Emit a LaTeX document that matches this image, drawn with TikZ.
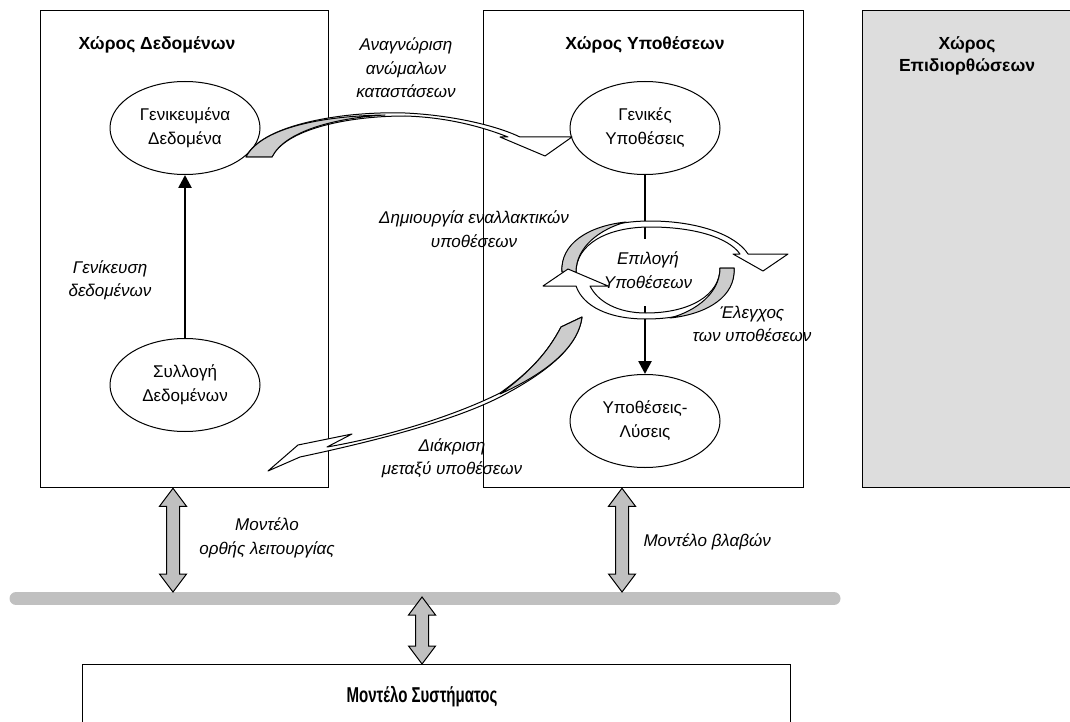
\documentclass[tikz,border=0pt]{standalone}
\usepackage{fontspec}
\setmainfont{Liberation Sans}
\usetikzlibrary{calc, arrows.meta, shapes.geometric}

\definecolor{panelgray}{RGB}{221,221,221}
\definecolor{bargray}{RGB}{192,192,192}
\definecolor{backgray}{RGB}{204,204,204}

\tikzstyle{zone} = [rectangle, draw=black, line width=1.3pt, anchor=north west, inner sep=0pt]
\tikzstyle{zonetitle} = [font=\fontsize{17.5}{22}\selectfont\bfseries, align=center]
\tikzstyle{oval} = [ellipse, draw=black, line width=1pt, minimum width=150pt, minimum height=93pt, inner sep=0pt, align=center, font=\fontsize{17}{24}\selectfont]
\tikzstyle{note} = [align=center, font=\fontsize{17}{23.5}\selectfont\itshape]
\tikzstyle{arrow} = [line width=2.6pt, -{Triangle[width=13pt,length=13pt]}]
\tikzstyle{ribbon} = [draw=black, line width=1pt, fill=white, line join=round]
\tikzstyle{ribbonback} = [ribbon, fill=backgray]
\tikzstyle{dblarrow} = [draw=black, line width=1pt, fill=bargray,
  to path={let \p1=(\tikztostart), \p2=(\tikztotarget) in
    (\x1,\y1) -- (\x1+13.5pt,\y1-18pt) -- (\x1+6.5pt,\y1-18pt) -- (\x1+6.5pt,\y2+18pt)
    -- (\x1+13.5pt,\y2+18pt) -- (\x1,\y2) -- (\x1-13.5pt,\y2+18pt) -- (\x1-6.5pt,\y2+18pt)
    -- (\x1-6.5pt,\y1-18pt) -- (\x1-13.5pt,\y1-18pt) -- cycle}]

\begin{document}
\begin{tikzpicture}[x=1pt, y=-1pt]
\useasboundingbox (0,0) rectangle (1070,722);

% the three spaces
\node (data) [zone, minimum width=288pt, minimum height=477pt] at (40,10) {};
\node (hyp) [zone, minimum width=320pt, minimum height=477pt] at (483,10) {};
\node (repair) [zone, fill=panelgray, minimum width=220pt, minimum height=477pt] at (862,10) {};

\node (datatitle) [zonetitle, anchor=west] at (75,45) {Χώρος Δεδομένων};
\node (hyptitle) [zonetitle] at (645,45) {Χώρος Υποθέσεων};
\node (repairtitle) [zonetitle] at (967,56) {Χώρος\\Επιδιορθώσεων};

% states
\node (general) [oval] at (185,128) {Γενικευμένα\\Δεδομένα};
\node (collect) [oval] at (185,385) {Συλλογή\\Δεδομένων};
\node (genhyp) [oval] at (645,128) {Γενικές\\Υποθέσεις};
\node (choice) [oval, draw=none, minimum height=98pt, font=\fontsize{17}{24}\selectfont\itshape] at (648,270) {Επιλογή\\Υποθέσεων};
\node (solution) [oval] at (645,421) {Υποθέσεις-\\Λύσεις};

\draw [arrow] (collect) -- (general);
\draw [line width=2.6pt] (genhyp) -- (genhyp |- 0,239);
\draw [arrow] (solution |- 0,306) -- (solution);

% ring round the choice
\begin{scope}[shift={(choice.center)}]
\draw [ribbon] (-86,2) .. controls (-88,-30) and (-48,-49) .. (2,-49) .. controls (50,-49) and (88,-35) .. (100,-16) -- (140,-16) -- (115,1) -- (85,-16) -- (92,-16) .. controls (80,-33) and (45,-43) .. (2,-43) .. controls (-42,-43) and (-72,-25) .. (-72,2) -- cycle;
\draw [ribbonback] (-86,2) .. controls (-88,-26) and (-60,-44) .. (-22,-48) .. controls (-48,-41) and (-72,-23) .. (-72,2) -- cycle;
\draw [ribbon] (86,-2) .. controls (88,30) and (48,49) .. (-2,49) .. controls (-40,49) and (-65,36) .. (-72,16) -- (-105,16) -- (-80,-1) -- (-40,16) -- (-58,16) .. controls (-50,32) and (-30,43) .. (-2,43) .. controls (42,43) and (72,25) .. (72,-2) -- cycle;
\draw [ribbonback] (86,-2) .. controls (88,26) and (60,44) .. (22,48) .. controls (48,41) and (72,23) .. (72,-2) -- cycle;
\end{scope}

% data -> hypotheses
\draw [ribbon] (246,157) .. controls (262,124) and (345,111) .. (405,113) .. controls (450,115) and (495,125) .. (520,137) -- (572,137) -- (545,156) -- (500,137) -- (508,137) .. controls (475,124) and (440,117) .. (405,116) .. controls (345,116) and (285,130) .. (272,157) -- cycle;
\draw [ribbonback] (246,157) .. controls (260,130) and (315,116) .. (385,115) .. controls (335,118) and (285,131) .. (272,157) -- cycle;

% hypotheses -> data
\draw [ribbon] (561,327) .. controls (548,352) and (530,372) .. (500,393) .. controls (450,418) and (380,438) .. (327,447) -- (352,434) -- (298,445) -- (268,471) -- (300,457) .. controls (380,440) and (455,420) .. (500,397) .. controls (540,376) and (578,350) .. (582,317) -- cycle;
\draw [ribbonback] (561,327) .. controls (548,352) and (530,372) .. (500,394) .. controls (540,376) and (578,350) .. (582,317) -- cycle;

% labels
\node (recognize) [note] at (406,68) {Αναγνώριση\\ανώμαλων\\καταστάσεων};
\node (generalize) [note] at (110,280) {Γενίκευση\\δεδομένων};
\node (create) [note] at (474,229) {Δημιουργία εναλλακτικών\\υποθέσεων};
\node (check) [note] at (752,324) {Έλεγχος\\των υποθέσεων};
\node (discern) [note] at (452,458) {Διάκριση\\μεταξύ υποθέσεων};

% system model
\coordinate (buswest) at (16,598.5);
\coordinate (buseast) at (834,598.5);
\draw [bargray, line width=13pt, line cap=round] (buswest) -- (buseast);

\node (system) [zone, minimum width=708pt, minimum height=70pt] at (82,664) {};
\node (systemlabel) [font=\fontsize{21.5}{24}\selectfont\bfseries\addfontfeature{FakeStretch=0.7}] at (422,697) {Μοντέλο Συστήματος};

\coordinate (busleft) at (173,592);
\coordinate (busright) at (622,592);
\coordinate (busmid) at (422,597);
\draw [dblarrow] (data.south -| busleft) to (busleft);
\draw [dblarrow] (hyp.south -| busright) to (busright);
\draw [dblarrow] (busmid) to (system.north -| busmid);

\node (normalmodel) [note] at (267,538) {Μοντέλο\\ορθής λειτουργίας};
\node (faultmodel) [note, anchor=west] at (640,542) {Μοντέλο βλαβών};

\end{tikzpicture}
\end{document}
